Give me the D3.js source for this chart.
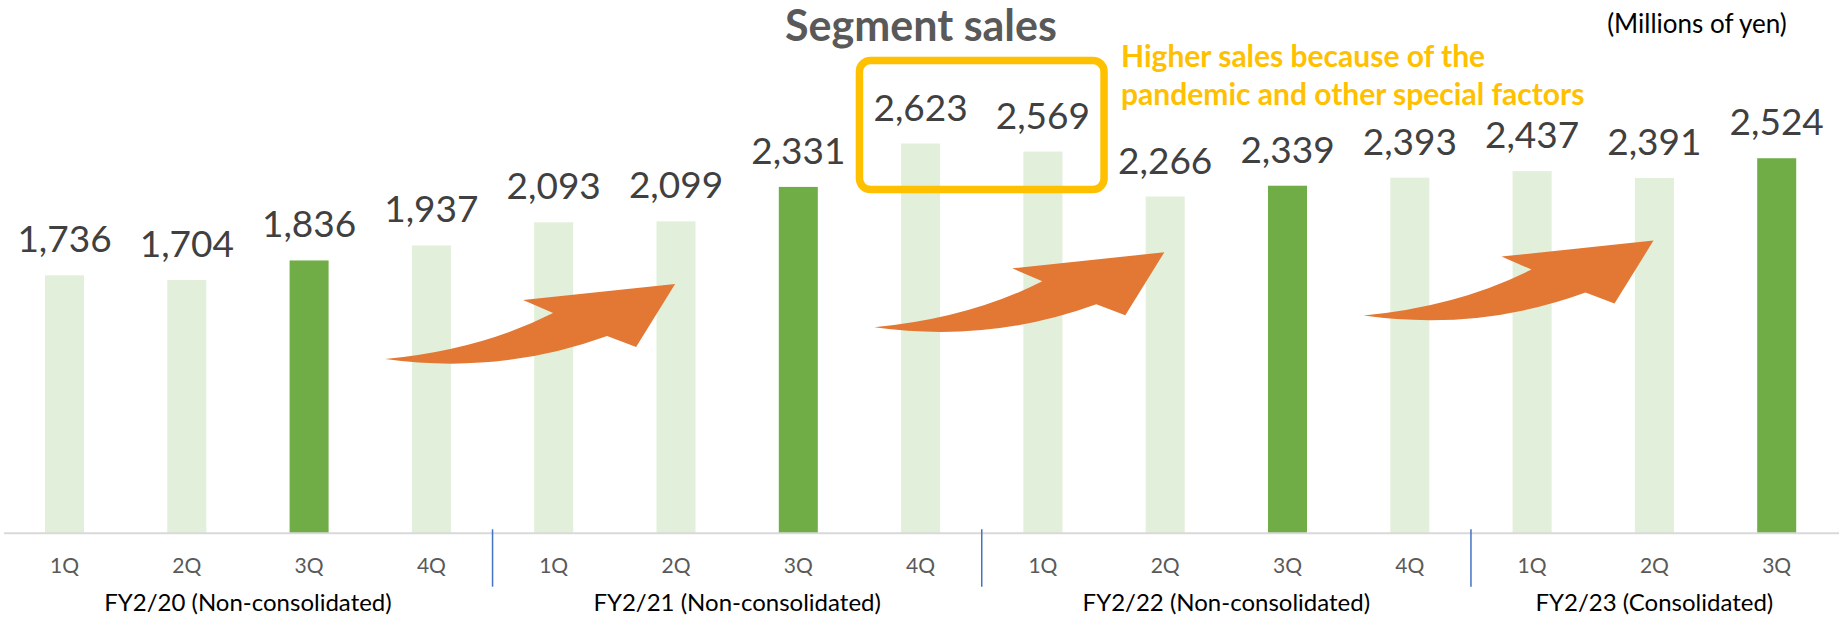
<!DOCTYPE html>
<html>
<head>
<meta charset="utf-8">
<script src="https://cdn.jsdelivr.net/npm/d3@7"></script>
<style>
  body { margin: 0; background: #fff; }
  text { font-family: Lato, "Open Sans", sans-serif; }
</style>
</head>
<body>
<svg id="chart" width="1839" height="617"></svg>
<script>
// chart data
var quarters = ["1Q", "2Q", "3Q", "4Q", "1Q", "2Q", "3Q", "4Q", "1Q", "2Q", "3Q", "4Q", "1Q", "2Q", "3Q"];
var sales = [1736, 1704, 1836, 1937, 2093, 2099, 2331, 2623, 2569, 2266, 2339, 2393, 2437, 2391, 2524];
var fiscalYears = ["FY2/20 (Non-consolidated)", "FY2/21 (Non-consolidated)", "FY2/22 (Non-consolidated)", "FY2/23 (Consolidated)"];
var yearOf = [0, 0, 0, 0, 1, 1, 1, 1, 2, 2, 2, 2, 3, 3, 3];
var highlightQuarter = "3Q";
var boxedBars = [7, 8];
var arrowStarts = [2, 6, 10];
var noteLines = ["Higher sales because of the", "pandemic and other special factors"];
var titleText = "Segment sales";
var unitText = "(Millions of yen)";

var svg = d3.select("#chart");
var fmt = d3.format(",");

var x = d3.scaleBand()
    .domain(d3.range(sales.length))
    .range([3.35, 1837.85])
    .paddingInner(0.681)
    .paddingOuter(0.3405);

var y = d3.scaleLinear()
    .domain([0, 3000])
    .range([533.3, 533.3 - 0.1486 * 3000]);

function cx(i) { return x(i) + x.bandwidth() / 2; }

// bars
svg.append("g").selectAll("rect")
    .data(sales)
    .enter()
    .append("rect")
    .attr("x", function (d, i) { return x(i); })
    .attr("y", function (d) { return y(d); })
    .attr("width", x.bandwidth())
    .attr("height", function (d) { return y(0) - y(d); })
    .attr("fill", function (d, i) { return quarters[i] == highlightQuarter ? "#70ad47" : "#e2efda"; });

// value labels
svg.append("g").selectAll("text")
    .data(sales)
    .enter()
    .append("text")
    .attr("x", function (d, i) { return cx(i); })
    .attr("y", function (d) { return y(d) - 23; })
    .attr("text-anchor", "middle")
    .attr("font-size", 37)
    .attr("fill", "#404040")
    .text(function (d) { return fmt(d); });

// category axis line
svg.append("line")
    .attr("x1", 4).attr("x2", 1839)
    .attr("y1", y(0)).attr("y2", y(0))
    .attr("stroke", "#d9d9d9")
    .attr("stroke-width", 2);

// quarter labels
svg.append("g").selectAll("text")
    .data(quarters)
    .enter()
    .append("text")
    .attr("x", function (d, i) { return cx(i); })
    .attr("y", 572.7)
    .attr("text-anchor", "middle")
    .attr("font-size", 21)
    .attr("fill", "#595959")
    .text(function (d) { return d; });

// fiscal year labels, centred on their bars
svg.append("g").selectAll("text")
    .data(fiscalYears)
    .enter()
    .append("text")
    .attr("x", function (d, k) {
        var idx = d3.range(sales.length).filter(function (i) { return yearOf[i] == k; });
        return (cx(idx[0]) + cx(idx[idx.length - 1])) / 2;
    })
    .attr("y", 611)
    .attr("text-anchor", "middle")
    .attr("font-size", 24)
    .attr("fill", "#000")
    .text(function (d) { return d; });

// year separators
var seps = d3.range(1, sales.length).filter(function (i) { return yearOf[i] != yearOf[i - 1]; });
svg.append("g").selectAll("line")
    .data(seps)
    .enter()
    .append("line")
    .attr("x1", function (i) { return x(i) - x.step() * x.paddingInner() / 2; })
    .attr("x2", function (i) { return x(i) - x.step() * x.paddingInner() / 2; })
    .attr("y1", 529.3).attr("y2", 586.7)
    .attr("stroke", "#4472c4")
    .attr("stroke-width", 1.5);

// orange growth arrows
var arrowLift = [0, 31.7, 43.4];
function arrowPath(i, k) {
    var x0 = cx(i), y0 = 359 - arrowLift[k];
    var p = function (dx, dy) { return (x0 + dx) + "," + (y0 + dy); };
    return "M" + p(76, 0) +
        "Q" + p(171, -9) + " " + p(244, -46) +
        "L" + p(214, -59) +
        "L" + p(366, -75) +
        "L" + p(327, -12) +
        "L" + p(298, -23) +
        "Q" + p(191, 16) + " " + p(76, 0) + "Z";
}
svg.append("g").selectAll("path")
    .data(arrowStarts)
    .enter()
    .append("path")
    .attr("d", arrowPath)
    .attr("fill", "#e27833");

// yellow box round the pandemic quarters
var bx0 = cx(boxedBars[0]) - x.step() / 2;
var bx1 = cx(boxedBars[1]) + x.step() / 2;
var by0 = y(d3.max(boxedBars, function (i) { return sales[i]; })) - 83;
var by1 = y(d3.min(boxedBars, function (i) { return sales[i]; })) + 38;
svg.append("rect")
    .attr("x", bx0).attr("y", by0)
    .attr("width", bx1 - bx0).attr("height", by1 - by0)
    .attr("rx", 11).attr("ry", 11)
    .attr("fill", "none")
    .attr("stroke", "#ffc000")
    .attr("stroke-width", 7.5);

svg.append("g").selectAll("text")
    .data(noteLines)
    .enter()
    .append("text")
    .attr("x", bx1 + 17)
    .attr("y", function (d, i) { return 67 + i * 38; })
    .attr("font-size", 30)
    .attr("font-weight", "bold")
    .attr("fill", "#ffc000")
    .text(function (d) { return d; });

// title and unit
svg.append("text")
    .attr("x", 921).attr("y", 41)
    .attr("text-anchor", "middle")
    .attr("font-size", 43)
    .attr("font-weight", "bold")
    .attr("fill", "#595959")
    .text(titleText);

svg.append("text")
    .attr("x", 1697).attr("y", 33)
    .attr("text-anchor", "middle")
    .attr("font-size", 26)
    .attr("fill", "#000")
    .text(unitText);
</script>
</body>
</html>
